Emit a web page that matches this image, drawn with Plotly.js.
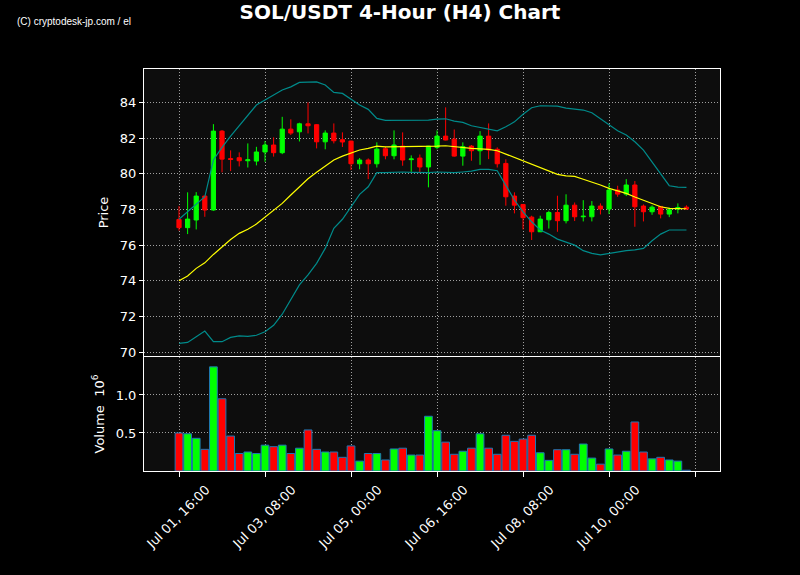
<!DOCTYPE html>
<html>
<head>
<meta charset="utf-8">
<script src="https://cdn.plot.ly/plotly-3.0.1.min.js"></script>
<style>
  html, body { margin: 0; padding: 0; background: #000; }
  #chart { width: 800px; height: 575px; }
</style>
</head>
<body>
<div id="chart"></div>
<script>
// 4-hour candle timestamps
const times = [
  "2024-07-01 16:00","2024-07-01 20:00",
  "2024-07-02 00:00","2024-07-02 04:00","2024-07-02 08:00","2024-07-02 12:00","2024-07-02 16:00","2024-07-02 20:00",
  "2024-07-03 00:00","2024-07-03 04:00","2024-07-03 08:00","2024-07-03 12:00","2024-07-03 16:00","2024-07-03 20:00",
  "2024-07-04 00:00","2024-07-04 04:00","2024-07-04 08:00","2024-07-04 12:00","2024-07-04 16:00","2024-07-04 20:00",
  "2024-07-05 00:00","2024-07-05 04:00","2024-07-05 08:00","2024-07-05 12:00","2024-07-05 16:00","2024-07-05 20:00",
  "2024-07-06 00:00","2024-07-06 04:00","2024-07-06 08:00","2024-07-06 12:00","2024-07-06 16:00","2024-07-06 20:00",
  "2024-07-07 00:00","2024-07-07 04:00","2024-07-07 08:00","2024-07-07 12:00","2024-07-07 16:00","2024-07-07 20:00",
  "2024-07-08 00:00","2024-07-08 04:00","2024-07-08 08:00","2024-07-08 12:00","2024-07-08 16:00","2024-07-08 20:00",
  "2024-07-09 00:00","2024-07-09 04:00","2024-07-09 08:00","2024-07-09 12:00","2024-07-09 16:00","2024-07-09 20:00",
  "2024-07-10 00:00","2024-07-10 04:00","2024-07-10 08:00","2024-07-10 12:00","2024-07-10 16:00","2024-07-10 20:00",
  "2024-07-11 00:00","2024-07-11 04:00","2024-07-11 08:00","2024-07-11 12:00"
];

const openP = [
  77.44,76.98,77.41,78.75,77.97,82.39,80.85,80.90,80.73,80.71,
  81.22,81.61,81.18,82.50,82.35,82.80,82.75,81.79,82.28,81.91,
  81.83,80.56,80.77,80.56,81.40,81.01,81.55,80.79,80.88,80.38,
  81.48,82.11,81.94,80.99,81.55,81.29,82.11,81.37,80.58,78.75,
  78.28,77.57,76.75,77.42,77.83,77.37,78.24,77.59,77.59,78.19,
  78.02,79.09,78.86,79.37,78.19,77.87,78.17,77.74,78.02,78.13
];
const highP = [
  78.19,78.96,78.97,78.75,82.78,82.45,81.31,81.20,81.70,81.51,
  81.83,82.04,83.19,83.05,82.86,84.00,82.78,82.43,82.82,82.32,
  81.85,80.88,80.86,81.76,81.52,82.43,82.32,81.03,81.08,81.56,
  82.43,83.72,82.48,81.76,81.61,82.39,82.82,81.48,80.81,78.96,
  78.28,77.65,77.65,77.93,78.77,78.85,78.39,78.52,78.47,78.34,
  79.46,79.33,79.70,79.59,78.28,78.23,78.18,78.11,78.34,78.23
];
const lowP = [
  76.81,76.62,76.88,77.59,77.93,80.08,80.15,80.41,80.35,80.47,
  80.67,80.96,81.10,82.17,81.81,82.26,81.42,81.37,81.70,81.50,
  80.21,80.25,79.70,80.35,80.81,80.81,80.45,80.11,80.08,79.24,
  81.37,81.87,80.96,80.45,80.73,80.50,80.82,80.35,78.21,77.78,
  76.88,76.29,76.75,76.93,76.75,77.22,77.35,77.33,77.33,77.72,
  77.74,78.71,78.75,77.03,77.33,77.70,77.50,77.57,77.78,78.00
];
const closeP = [
  76.98,77.46,78.75,77.97,82.39,80.82,80.80,80.73,80.78,81.22,
  81.61,81.18,82.50,82.28,82.80,82.69,81.79,82.28,81.85,81.78,
  80.56,80.77,80.56,81.38,81.01,81.61,80.77,80.83,80.38,81.55,
  82.11,81.89,80.99,81.52,81.29,82.11,81.33,80.56,78.71,78.24,
  77.54,76.75,77.46,77.83,77.37,78.24,77.59,77.62,78.19,78.02,
  79.09,78.86,79.37,78.15,77.87,78.13,77.74,77.98,78.11,78.02
];
// Volume in millions (10^6)
const volume = [
  0.50,0.49,0.43,0.285,1.37,0.95,0.46,0.23,0.25,0.23,
  0.34,0.32,0.34,0.23,0.30,0.54,0.285,0.25,0.25,0.18,
  0.33,0.13,0.23,0.23,0.145,0.29,0.30,0.21,0.21,0.72,
  0.53,0.38,0.22,0.26,0.30,0.49,0.30,0.22,0.47,0.39,
  0.42,0.47,0.24,0.14,0.28,0.28,0.22,0.355,0.17,0.09,
  0.29,0.21,0.26,0.645,0.25,0.16,0.18,0.145,0.13,0.01
];
// Bollinger bands (20-period)
const bbMid = [
  74.00,74.27,74.70,75.01,75.48,75.91,76.32,76.66,76.89,77.18,
  77.56,77.91,78.34,78.81,79.27,79.72,80.08,80.43,80.77,80.99,
  81.18,81.33,81.42,81.55,81.51,81.51,81.51,81.51,81.52,81.55,
  81.55,81.57,81.51,81.46,81.42,81.40,81.37,81.29,81.10,80.92,
  80.73,80.53,80.36,80.15,79.97,79.88,79.85,79.69,79.55,79.37,
  79.18,79.03,78.90,78.70,78.51,78.32,78.15,78.06,78.04,78.04
];
const bbUpper = [
  77.45,77.87,78.30,78.71,80.77,81.48,82.11,82.71,83.29,83.85,
  84.13,84.41,84.69,84.87,85.12,85.14,85.15,84.97,84.56,84.50,
  84.18,83.85,83.61,83.10,82.99,82.99,82.99,83.01,83.02,83.01,
  83.06,83.08,82.95,82.88,82.69,82.60,82.54,82.41,82.63,82.91,
  83.33,83.70,83.81,83.81,83.79,83.68,83.62,83.57,83.42,83.10,
  82.77,82.41,82.17,81.79,81.33,80.67,80.02,79.33,79.25,79.24
];
const bbLower = [
  70.50,70.55,70.87,71.19,70.59,70.59,70.83,70.92,70.89,70.95,
  71.15,71.51,72.13,72.92,73.77,74.33,74.98,75.82,76.94,77.45,
  78.15,78.85,79.27,80.06,80.06,80.10,80.10,80.08,80.06,80.06,
  80.10,80.08,80.06,80.10,80.15,80.25,80.25,80.17,79.37,78.53,
  77.87,77.31,76.85,76.62,76.34,76.15,76.00,75.69,75.54,75.46,
  75.54,75.65,75.69,75.74,75.82,76.25,76.62,76.85,76.85,76.85
];

// Labeled ticks, plus the final unlabeled tick
const xTickVals = ["2024-07-01 16:00","2024-07-03 08:00","2024-07-05 00:00","2024-07-06 16:00","2024-07-08 08:00","2024-07-10 00:00"];
const xTickText = ["Jul 01, 16:00","Jul 03, 08:00","Jul 05, 00:00","Jul 06, 16:00","Jul 08, 08:00","Jul 10, 00:00"];
const xExtraTick = ["2024-07-11 16:00"];
const priceTicks = [70,72,74,76,78,80,82,84];
const volTicks = [0.5,1.0];
const volTickText = ["0.5","1.0"];

const GREEN = "#00ff00", RED = "#ff0000";
const volColors = closeP.map((c, i) => c >= openP[i] ? GREEN : RED);

const traces = [
  {
    type: "scatter", mode: "lines", x: times, y: bbUpper, xaxis: "x2", yaxis: "y",
    line: { color: "#008b8b", width: 1.2 }, hoverinfo: "skip", showlegend: false
  },
  {
    type: "scatter", mode: "lines", x: times, y: bbLower, xaxis: "x2", yaxis: "y",
    line: { color: "#008b8b", width: 1.2 }, hoverinfo: "skip", showlegend: false
  },
  {
    type: "scatter", mode: "lines", x: times, y: bbMid, xaxis: "x2", yaxis: "y",
    line: { color: "#ffff00", width: 1.2 }, hoverinfo: "skip", showlegend: false
  },
  {
    type: "candlestick", x: times, open: openP, high: highP, low: lowP, close: closeP,
    xaxis: "x2", yaxis: "y",
    increasing: { line: { color: GREEN, width: 1 }, fillcolor: GREEN },
    decreasing: { line: { color: RED, width: 1 }, fillcolor: RED },
    whiskerwidth: 0, showlegend: false
  },
  {
    type: "bar", x: times, y: volume, xaxis: "x", yaxis: "y2",
    marker: { color: volColors, line: { color: "#1f77b4", width: 1 } },
    showlegend: false
  },
  {
    type: "scatter", mode: "markers", x: [], y: [], xaxis: "x3", yaxis: "y2",
    hoverinfo: "skip", showlegend: false
  }
];

const xRange = ["2024-06-30 23:43", "2024-07-12 03:36"];
const gridStyle = { gridcolor: "#a0a0a0", griddash: "1px,2px", gridwidth: 1 };
const tickFont = { family: "DejaVu Sans", size: 13, color: "#ffffff" };

const layout = {
  width: 800, height: 575,
  paper_bgcolor: "#000000",
  plot_bgcolor: "#0d0d0d",
  margin: { l: 144, r: 80, t: 69, b: 104 },
  showlegend: false,
  bargap: 0.1,
  title: {
    text: "<b>SOL/USDT 4-Hour (H4) Chart</b>",
    font: { family: "DejaVu Sans", size: 20, color: "#ffffff" },
    x: 0.5, xanchor: "center", y: 1 - 12 / 575, yanchor: "middle"
  },
  xaxis: Object.assign({
    type: "date", range: xRange, anchor: "y2", domain: [0, 1],
    tickmode: "array", tickvals: xTickVals, ticktext: xTickText,
    tickangle: -45, tickfont: tickFont, ticklabelshift: 27,
    ticks: "outside", ticklen: 5, tickcolor: "#ffffff",
    showline: true, linecolor: "#ffffff", linewidth: 1, mirror: true,
    showgrid: true, zeroline: false, rangeslider: { visible: false }
  }, gridStyle),
  xaxis2: Object.assign({
    type: "date", range: xRange, anchor: "y", domain: [0, 1], matches: "x",
    tickmode: "array", tickvals: xTickVals.concat(xExtraTick), showticklabels: false, ticks: "",
    showline: true, linecolor: "#ffffff", linewidth: 1, mirror: true,
    showgrid: true, zeroline: false, rangeslider: { visible: false }
  }, gridStyle),
  xaxis3: Object.assign({
    type: "date", range: xRange, anchor: "y2", overlaying: "x", matches: "x",
    tickmode: "array", tickvals: xExtraTick, showticklabels: false,
    ticks: "outside", ticklen: 5, tickcolor: "#ffffff",
    showline: false, showgrid: true, zeroline: false, rangeslider: { visible: false }
  }, gridStyle),
  yaxis: Object.assign({
    domain: [0.2861, 1], anchor: "x2", range: [69.79, 85.87],
    tickmode: "array", tickvals: priceTicks, tickfont: tickFont,
    ticks: "outside", ticklen: 4, tickcolor: "#ffffff",
    showline: true, linecolor: "#ffffff", linewidth: 1, mirror: true,
    zeroline: false,
    title: { text: "Price", font: { family: "DejaVu Sans", size: 13, color: "#ffffff" }, standoff: 8 }
  }, gridStyle),
  yaxis2: Object.assign({
    domain: [0, 0.2836], anchor: "x", range: [0, 1.50],
    tickmode: "array", tickvals: volTicks, ticktext: volTickText, tickfont: tickFont,
    ticks: "outside", ticklen: 4, tickcolor: "#ffffff",
    showline: true, linecolor: "#ffffff", linewidth: 1, mirror: true,
    zeroline: false,
    title: { text: "Volume  10<sup>6</sup>", font: { family: "DejaVu Sans", size: 13, color: "#ffffff" }, standoff: 8 }
  }, gridStyle),
  annotations: [
    {
      text: "(C) cryptodesk-jp.com / el", xref: "paper", yref: "paper",
      x: (15 - 144) / 576, y: (471 - 21) / 402, xanchor: "left", yanchor: "middle",
      showarrow: false, font: { family: "Liberation Sans Narrow, Liberation Sans", size: 10, color: "#ffffff" }
    }
  ]
};

Plotly.newPlot("chart", traces, layout, { displayModeBar: false, staticPlot: true });
</script>
</body>
</html>
